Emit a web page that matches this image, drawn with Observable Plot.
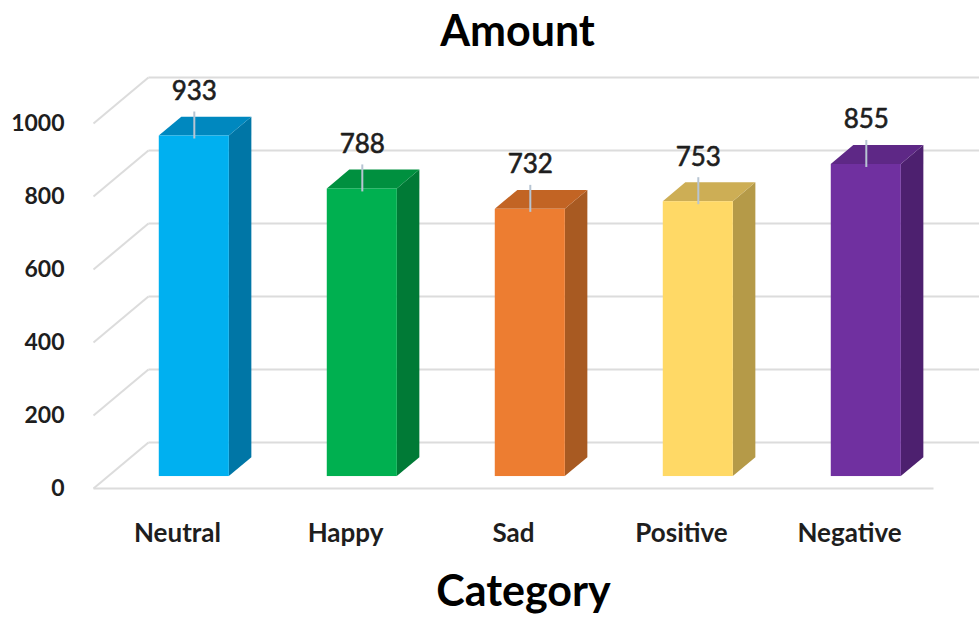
<!DOCTYPE html>
<html>
<head>
<meta charset="utf-8">
<script src="https://cdn.jsdelivr.net/npm/d3@7"></script>
<script src="https://cdn.jsdelivr.net/npm/@observablehq/plot@0.6"></script>
<style>
  body { margin: 0; background: #fff; }
  svg text { font-family: Lato, "Open Sans", sans-serif; }
</style>
</head>
<body>
<div id="chart"></div>
<script>
// Amount per category
const categories = ["Neutral", "Happy", "Sad", "Positive", "Negative"];
const amounts = [933, 788, 732, 753, 855];
const yTicks = [0, 200, 400, 600, 800, 1000];

// Face colours of each 3-D column: front, right side, top
const frontColors = ["#00B0F0", "#00B050", "#ED7D31", "#FFD966", "#7030A0"];
const sideColors  = ["#0076A6", "#007A36", "#A85A22", "#B59A48", "#4D206F"];
const topColors   = ["#0088BF", "#00903F", "#C26424", "#CDAE55", "#5E2886"];

// Oblique depth of the floor: x in category-band units, y in value units
const DX = 0.327, DY = 126;
// Columns occupy this slice of the depth, and this part of each band
const Z0 = 0.26, Z1 = 0.67;
const BAR_C = 0.515, BAR_W = 0.417;

const bars = categories.map((category, i) => {
  const v = amounts[i];
  const xl = i + BAR_C - BAR_W / 2 + Z0 * DX;
  const xr = i + BAR_C + BAR_W / 2 + Z0 * DX;
  return {
    category, value: v, i,
    xl, xr, xc: (xl + xr) / 2,
    yb: Z0 * DY, yt: v + Z0 * DY,
    front: frontColors[i], side: sideColors[i], top: topColors[i]
  };
});
const ddx = (Z1 - Z0) * DX, ddy = (Z1 - Z0) * DY;

// Right-hand side faces (vertical parallelograms)
const sideFaces = bars.flatMap(b => [
  {k: b.i, x: b.xr,       y1: b.yb,       y2: b.yt,       fill: b.side},
  {k: b.i, x: b.xr + ddx, y1: b.yb + ddy, y2: b.yt + ddy, fill: b.side}
]);
// Top faces (horizontal parallelograms)
const topFaces = bars.flatMap(b => [
  {k: b.i, y: b.yt,       x1: b.xl,       x2: b.xr,       fill: b.top},
  {k: b.i, y: b.yt + ddy, x1: b.xl + ddx, x2: b.xr + ddx, fill: b.top}
]);

const W = 979, H = 621;
const left = 93, bottom = 133;
const pxPerBand = 168, pxPerUnit = 0.365;

const grid = "#dcdcdc";
const ink = "#1e1e1e";

const chart = Plot.plot({
  width: W,
  height: H,
  marginLeft: left,
  marginRight: 0,
  marginTop: 0,
  marginBottom: bottom,
  x: {type: "linear", domain: [0, (W - left) / pxPerBand], axis: null},
  y: {type: "linear", domain: [0, (H - bottom) / pxPerUnit], axis: null},
  color: {type: "identity"},
  style: {background: "#fff", overflow: "visible"},
  marks: [
    // floor / wall gridlines: oblique side-wall segment plus back-wall line
    Plot.link(yTicks, {x1: 0, y1: d => d, x2: DX, y2: d => d + DY, stroke: grid, strokeWidth: 2}),
    Plot.link(yTicks, {x1: DX, y1: d => d + DY, x2: categories.length + DX, y2: d => d + DY, stroke: grid, strokeWidth: 2}),
    // front edge of the floor
    Plot.link([0], {x1: 0, y1: 0, x2: categories.length, y2: 0, stroke: grid, strokeWidth: 2}),

    // columns
    Plot.areaY(sideFaces, {x: "x", y1: "y1", y2: "y2", z: "k", fill: "fill"}),
    Plot.areaX(topFaces, {y: "y", x1: "x1", x2: "x2", z: "k", fill: "fill"}),
    Plot.rect(bars, {x1: "xl", x2: "xr", y1: "yb", y2: "yt", fill: "front"}),

    // value labels with leader lines
    Plot.ruleX(bars, {x: "xc", y1: "yt", y2: "yt", insetTop: -24, insetBottom: -3, stroke: "#b7c5d3", strokeWidth: 2}),
    Plot.text(bars, {x: "xc", y: "yt", text: d => String(d.value), dy: -36, lineAnchor: "bottom",
      fontSize: 26, fill: ink, stroke: ink, strokeWidth: 0.6}),

    // y tick labels at the front edge
    Plot.text(yTicks, {x: 0, y: d => d, text: d => String(d), textAnchor: "end", dx: -29,
      fontSize: 23, fontWeight: "bold", fill: ink}),

    // category labels
    Plot.text(categories, {x: (d, i) => i + 0.5, y: 0, text: d => d, dy: 53, lineAnchor: "bottom",
      fontSize: 26, fontWeight: "bold", fill: ink}),

    // titles
    Plot.text(["Amount"], {frameAnchor: "top", text: d => d, dx: -19, dy: 45, lineAnchor: "bottom",
      fontSize: 43, fontWeight: "bold", fill: "#000"}),
    Plot.text(["Category"], {frameAnchor: "bottom", text: d => d, dx: -13, dy: 117, lineAnchor: "bottom",
      fontSize: 43, fontWeight: "bold", fill: "#000"})
  ]
});

document.getElementById("chart").appendChild(chart);
</script>
</body>
</html>
